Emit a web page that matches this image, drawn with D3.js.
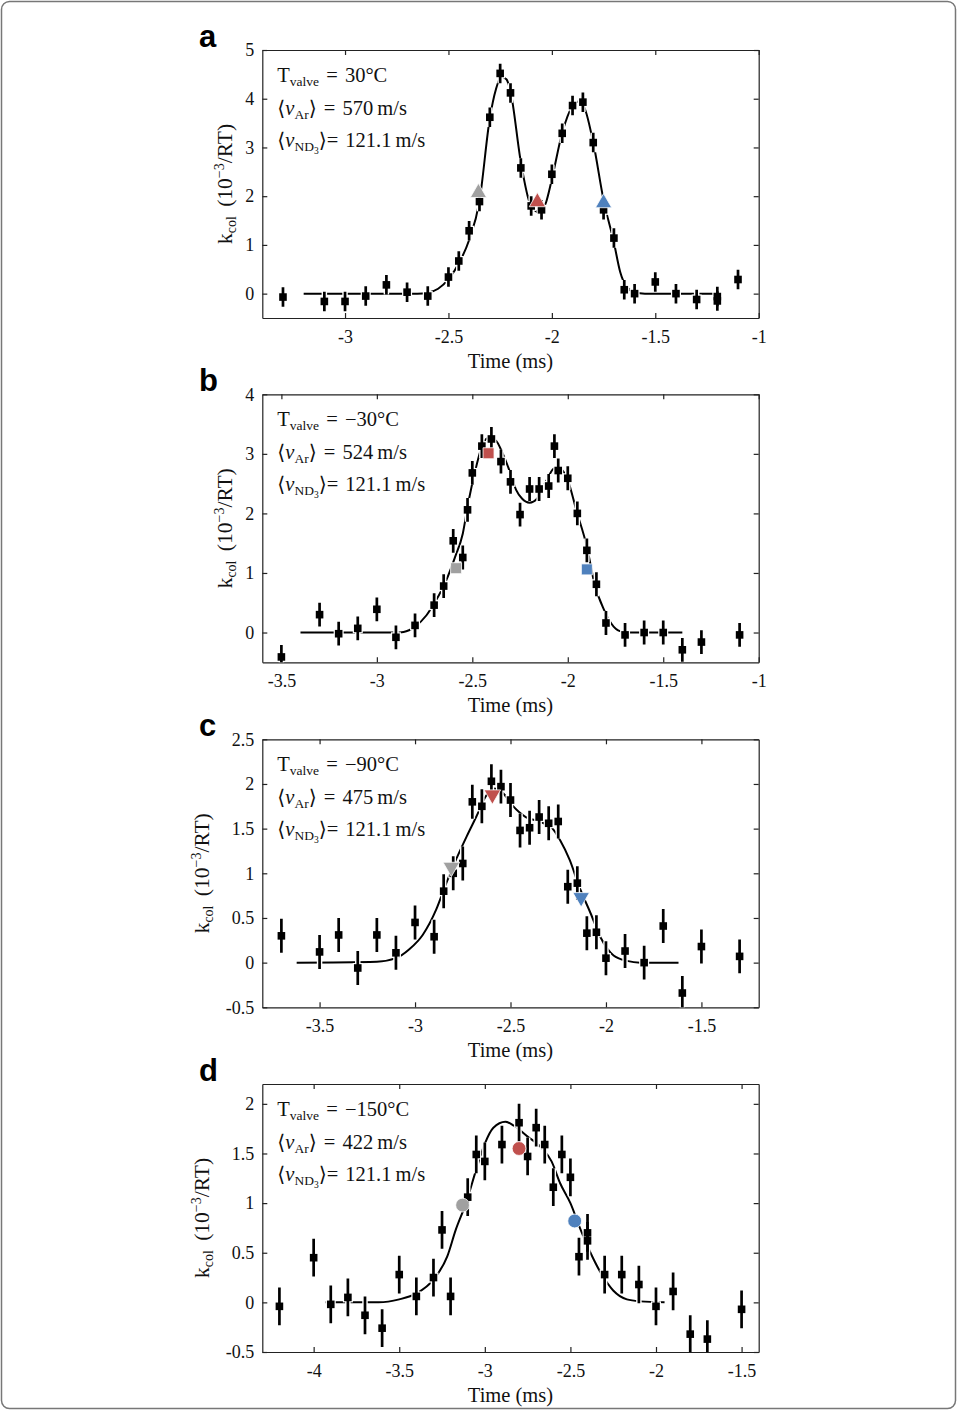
<!DOCTYPE html>
<html>
<head>
<meta charset="utf-8">
<script src="https://cdn.jsdelivr.net/npm/d3@7"></script>
<style>
  body { margin: 0; background: #fff; }
  text { font-family: "Liberation Serif", "DejaVu Serif", serif; fill: #111; }
  .axis text { font-size: 18px; }
  .axis path, .axis line { stroke: #222; stroke-width: 1.2; }
</style>
</head>
<body>
<div id="root"></div>
<script>
// ---- data ----
// panel a, T_valve = 30 C
const timeA = [-3.3, -3.1, -3.0, -2.9, -2.8, -2.7, -2.6, -2.5, -2.45, -2.4, -2.35, -2.3, -2.25, -2.2, -2.15, -2.1, -2.05, -2.0, -1.95, -1.9, -1.85, -1.8, -1.75, -1.7, -1.65, -1.6, -1.5, -1.4, -1.3, -1.2, -1.2, -1.1];
const kA = [-0.07, -0.16, -0.16, -0.05, 0.18, 0.03, -0.05, 0.34, 0.67, 1.29, 1.89, 3.62, 4.52, 4.12, 2.58, 1.80, 1.72, 2.45, 3.29, 3.86, 3.93, 3.10, 1.72, 1.14, 0.08, 0.0, 0.24, 0.0, -0.12, -0.06, -0.15, 0.29];
const fitTimeA = [-3.2, -2.65, -2.6, -2.55, -2.5, -2.45, -2.4, -2.35, -2.3, -2.27, -2.245, -2.22, -2.2, -2.15, -2.11, -2.08, -2.06, -2.03, -2.0, -1.95, -1.9, -1.875, -1.85, -1.8, -1.75, -1.7, -1.67, -1.64, -1.6, -1.55, -1.2];
const fitA = [0, 0, 0.02, 0.1, 0.3, 0.62, 1.1, 1.9, 3.6, 4.2, 4.45, 4.4, 4.15, 2.7, 1.9, 1.7, 1.66, 1.85, 2.35, 3.3, 3.85, 3.94, 3.88, 3.1, 1.92, 1.05, 0.45, 0.15, 0.03, 0, 0];
const markTimeA = [-2.355, -2.07, -1.75];
const markA = [2.07, 1.88, 1.86];

// panel b, T_valve = -30 C
const timeB = [-3.5, -3.3, -3.2, -3.1, -3.0, -2.9, -2.8, -2.7, -2.65, -2.6, -2.55, -2.525, -2.5, -2.45, -2.4, -2.35, -2.3, -2.25, -2.2, -2.15, -2.1, -2.07, -2.05, -2.0, -1.95, -1.9, -1.85, -1.8, -1.7, -1.6, -1.5, -1.4, -1.3, -1.1];
const kB = [-0.41, 0.30, -0.02, 0.07, 0.39, -0.08, 0.12, 0.46, 0.78, 1.54, 1.26, 2.06, 2.68, 3.13, 3.25, 2.87, 2.53, 1.98, 2.41, 2.41, 2.46, 3.13, 2.72, 2.59, 2.0, 1.38, 0.81, 0.16, -0.04, 0.0, 0.0, -0.29, -0.16, -0.04];
const fitTimeB = [-3.4, -2.9, -2.86, -2.8, -2.74, -2.69, -2.64, -2.59, -2.55, -2.52, -2.48, -2.45, -2.42, -2.38, -2.34, -2.3, -2.27, -2.24, -2.2, -2.16, -2.11, -2.07, -2.04, -2.0, -1.955, -1.9, -1.86, -1.81, -1.76, -1.71, -1.65, -1.4];
const fitB = [0, 0, 0.01, 0.1, 0.29, 0.54, 0.85, 1.27, 1.66, 2.2, 2.78, 3.12, 3.26, 3.23, 3.0, 2.67, 2.39, 2.25, 2.18, 2.25, 2.56, 2.76, 2.75, 2.56, 2.05, 1.44, 0.82, 0.38, 0.1, 0.01, 0, 0];
const markTimeB = [-2.585, -2.415, -1.9];
const markB = [1.08, 3.01, 1.06];

// panel c, T_valve = -90 C
const timeC = [-3.7, -3.5, -3.4, -3.3, -3.2, -3.1, -3.0, -2.9, -2.85, -2.8, -2.75, -2.7, -2.65, -2.6, -2.55, -2.5, -2.45, -2.4, -2.35, -2.3, -2.25, -2.2, -2.15, -2.1, -2.05, -2.0, -1.9, -1.8, -1.7, -1.6, -1.5, -1.3];
const kC = [0.30, 0.12, 0.31, -0.06, 0.31, 0.11, 0.45, 0.29, 0.80, 1.0, 1.11, 1.80, 1.75, 2.03, 1.97, 1.82, 1.48, 1.51, 1.63, 1.56, 1.58, 0.85, 0.89, 0.33, 0.34, 0.05, 0.13, 0.0, 0.41, -0.34, 0.18, 0.07];
const fitTimeC = [-3.62, -3.2, -3.1, -3.03, -2.96, -2.89, -2.84, -2.79, -2.73, -2.68, -2.63, -2.59, -2.54, -2.49, -2.42, -2.35, -2.28, -2.24, -2.19, -2.14, -2.08, -2.03, -1.96, -1.89, -1.82, -1.62];
const fitC = [0, 0.01, 0.05, 0.15, 0.31, 0.59, 0.87, 1.13, 1.41, 1.63, 1.86, 1.95, 1.9, 1.76, 1.63, 1.58, 1.5, 1.37, 1.15, 0.85, 0.55, 0.29, 0.08, 0.02, 0, 0];
const markTimeC = [-2.81, -2.595, -2.13];
const markC = [1.07, 1.88, 0.73];

// panel d, T_valve = -150 C
const timeD = [-4.2, -4.0, -3.9, -3.8, -3.7, -3.6, -3.5, -3.4, -3.3, -3.25, -3.2, -3.1, -3.05, -3.0, -2.9, -2.8, -2.75, -2.7, -2.65, -2.6, -2.55, -2.5, -2.45, -2.4, -2.4, -2.3, -2.2, -2.1, -2.0, -1.9, -1.8, -1.7, -1.5];
const kD = [-0.04, 0.45, -0.02, 0.05, -0.13, -0.26, 0.28, 0.06, 0.25, 0.73, 0.06, 1.06, 1.49, 1.42, 1.59, 1.81, 1.47, 1.76, 1.59, 1.16, 1.49, 1.26, 0.46, 0.70, 0.62, 0.28, 0.28, 0.18, -0.04, 0.11, -0.32, -0.37, -0.07];
const fitTimeD = [-3.93, -3.62, -3.5, -3.4, -3.3, -3.22, -3.17, -3.11, -3.05, -3.0, -2.95, -2.88, -2.83, -2.75, -2.67, -2.61, -2.56, -2.5, -2.44, -2.38, -2.32, -2.25, -2.17, -2.09, -1.95];
const fitD = [0, 0, 0.03, 0.09, 0.23, 0.46, 0.73, 1.0, 1.34, 1.6, 1.76, 1.82, 1.78, 1.67, 1.56, 1.42, 1.2, 1.0, 0.73, 0.49, 0.29, 0.12, 0.03, 0.01, 0];
const markTimeD = [-3.13, -2.80, -2.475];
const markD = [0.98, 1.55, 0.82];

// error bar half widths (10^-3/RT)
const errors = [0.2, 0.2, 0.19, 0.19];

// axis ticks
const xTicks = [[-3, -2.5, -2, -1.5, -1], [-3.5, -3, -2.5, -2, -1.5, -1], [-3.5, -3, -2.5, -2, -1.5], [-4, -3.5, -3, -2.5, -2, -1.5]];
const yTicks = [[0, 1, 2, 3, 4, 5], [0, 1, 2, 3, 4], [-0.5, 0, 0.5, 1, 1.5, 2, 2.5], [-0.5, 0, 0.5, 1, 1.5, 2]];
const xDomains = [[-3.4, -1], [-3.6, -1], [-3.8, -1.2], [-4.3, -1.4]];
const yDomains = [[-0.5, 5], [-0.5, 4], [-0.5, 2.5], [-0.5, 2.2]];

// annotation text
const letters = ['a', 'b', 'c', 'd'];
const tValve = ['30', '\u221230', '\u221290', '\u2212150'];
const vAr = ['570', '524', '475', '422'];
const vND3 = '121.1';
const markColors = ['#a0a0a0', '#c0504d', '#4f81bd'];

// ---- layout ----
const W = 957, H = 1410;
const left = 262.3, plotW = 496.4, plotH = 268;
const tops = [50, 394.3, 739.3, 1084];
const ylabelX = [232, 232, 209, 209];
const symbols = [d3.symbolTriangle, d3.symbolSquare, d3.symbolTriangle, d3.symbolCircle];
const symSizes = [115, 121, 120, 150];
const symRotate = [0, 0, 180, 0];

const panels = [
    { time: timeA, k: kA, fitT: fitTimeA, fit: fitA, markT: markTimeA, mark: markA },
    { time: timeB, k: kB, fitT: fitTimeB, fit: fitB, markT: markTimeB, mark: markB },
    { time: timeC, k: kC, fitT: fitTimeC, fit: fitC, markT: markTimeC, mark: markC },
    { time: timeD, k: kD, fitT: fitTimeD, fit: fitD, markT: markTimeD, mark: markD },
];

const svg = d3.select('#root').append('svg')
    .attr('width', W)
    .attr('height', H);

// outer frame of the figure
svg.append('rect')
    .attr('x', 1.5).attr('y', 1.5)
    .attr('width', W - 3).attr('height', H - 3)
    .attr('rx', 8)
    .attr('fill', 'none')
    .attr('stroke', '#777')
    .attr('stroke-width', 1.5);

const fmt = d => String(d);

panels.forEach((p, i) => {
    const x = d3.scaleLinear().domain(xDomains[i]).range([0, plotW]);
    const y = d3.scaleLinear().domain(yDomains[i]).range([plotH, 0]);
    const g = svg.append('g').attr('transform', `translate(${left},${tops[i]})`);

    g.append('clipPath').attr('id', 'clip' + i)
        .append('rect').attr('width', plotW).attr('height', plotH);

    // axes, ticks pointing inward on all four sides
    g.append('g').attr('class', 'axis')
        .attr('transform', `translate(0,${plotH})`)
        .call(d3.axisBottom(x).tickValues(xTicks[i]).tickSize(-5).tickSizeOuter(0).tickPadding(12).tickFormat(fmt));
    g.append('g').attr('class', 'axis')
        .call(d3.axisTop(x).tickValues(xTicks[i]).tickSize(-5).tickSizeOuter(0).tickFormat(''));
    g.append('g').attr('class', 'axis')
        .call(d3.axisLeft(y).tickValues(yTicks[i]).tickSize(-5).tickSizeOuter(0).tickPadding(8).tickFormat(fmt));
    g.append('g').attr('class', 'axis')
        .attr('transform', `translate(${plotW},0)`)
        .call(d3.axisRight(y).tickValues(yTicks[i]).tickSize(-5).tickSizeOuter(0).tickFormat(''));
    g.selectAll('.axis text').attr('fill', '#111');

    const body = g.append('g').attr('clip-path', `url(#clip${i})`);

    // fit curve
    const fitPts = p.fitT.map((t, j) => [t, p.fit[j]]);
    body.append('path')
        .datum(fitPts)
        .attr('fill', 'none')
        .attr('stroke', '#000')
        .attr('stroke-width', 2)
        .attr('d', d3.line().x(d => x(d[0])).y(d => y(d[1])).curve(d3.curveMonotoneX));

    // data points with error bars (white halo under them)
    const pts = p.time.map((t, j) => ({ t, k: p.k[j] }));
    const err = errors[i];
    body.selectAll('line.halo').data(pts).join('line')
        .attr('class', 'halo')
        .attr('x1', d => x(d.t)).attr('x2', d => x(d.t))
        .attr('y1', d => y(d.k + err)).attr('y2', d => y(d.k - err))
        .attr('stroke', '#fff').attr('stroke-width', 5.5);
    body.selectAll('rect.halo').data(pts).join('rect')
        .attr('class', 'halo')
        .attr('x', d => x(d.t) - 5).attr('y', d => y(d.k) - 5)
        .attr('width', 10).attr('height', 10)
        .attr('fill', '#fff');
    body.selectAll('line.bar').data(pts).join('line')
        .attr('class', 'bar')
        .attr('x1', d => x(d.t)).attr('x2', d => x(d.t))
        .attr('y1', d => y(d.k + err)).attr('y2', d => y(d.k - err))
        .attr('stroke', '#000').attr('stroke-width', 2.7);
    body.selectAll('rect.pt').data(pts).join('rect')
        .attr('class', 'pt')
        .attr('x', d => x(d.t) - 3.8).attr('y', d => y(d.k) - 3.8)
        .attr('width', 7.6).attr('height', 7.6)
        .attr('fill', '#000');

    // coloured markers
    const marks = p.markT.map((t, j) => ({ t, k: p.mark[j], c: markColors[j] }));
    g.selectAll('path.mark').data(marks).join('path')
        .attr('class', 'mark')
        .attr('transform', d => `translate(${x(d.t)},${y(d.k)}) rotate(${symRotate[i]})`)
        .attr('d', d3.symbol().type(symbols[i]).size(symSizes[i]))
        .attr('fill', d => d.c)
        .attr('stroke', '#fff')
        .attr('stroke-width', 0.8);

    // annotation
    const ann = g.append('g').attr('transform', 'translate(15,0)')
        .style('font-size', '20.5px').style('word-spacing', '2px');
    const l1 = ann.append('text').attr('y', 32);
    l1.append('tspan').text('T');
    l1.append('tspan').attr('dy', 4).style('font-size', '13.5px').text('valve');
    l1.append('tspan').attr('dy', -4).text(` = ${tValve[i]}\u00b0C`);

    const l2 = ann.append('text').attr('y', 64.5);
    l2.append('tspan').text('\u27e8');
    l2.append('tspan').style('font-style', 'italic').text('v');
    l2.append('tspan').attr('dy', 4).style('font-size', '13.5px').text('Ar');
    l2.append('tspan').attr('dy', -4).text(`\u27e9 = ${vAr[i]}\u2009m/s`);

    const l3 = ann.append('text').attr('y', 97);
    l3.append('tspan').text('\u27e8');
    l3.append('tspan').style('font-style', 'italic').text('v');
    l3.append('tspan').attr('dy', 4).style('font-size', '13.5px').text('ND');
    l3.append('tspan').attr('dy', 2.5).style('font-size', '9.5px').text('3');
    l3.append('tspan').attr('dy', -6.5).text(`\u27e9= ${vND3}\u2009m/s`);

    // axis titles
    g.append('text')
        .attr('x', plotW / 2).attr('y', plotH + 50)
        .attr('text-anchor', 'middle')
        .style('font-size', '20.5px')
        .text('Time (ms)');

    const yl = svg.append('text')
        .attr('transform', `translate(${ylabelX[i]},${tops[i] + plotH / 2}) rotate(-90)`)
        .attr('text-anchor', 'middle')
        .style('font-size', '21.5px')
        .style('word-spacing', '4px');
    yl.append('tspan').text('k');
    yl.append('tspan').attr('dy', 4).style('font-size', '14px').text('col');
    yl.append('tspan').attr('dy', -4).text(' (10');
    yl.append('tspan').attr('dy', -8).style('font-size', '14px').text('\u22123');
    yl.append('tspan').attr('dy', 8).text('/RT)');

    // panel letter
    svg.append('text')
        .attr('x', 199).attr('y', tops[i] - 3)
        .style('font-family', '"Liberation Sans", Arial, sans-serif')
        .style('font-weight', 'bold')
        .style('font-size', '31px')
        .style('fill', '#000')
        .text(letters[i]);
});
</script>
</body>
</html>
